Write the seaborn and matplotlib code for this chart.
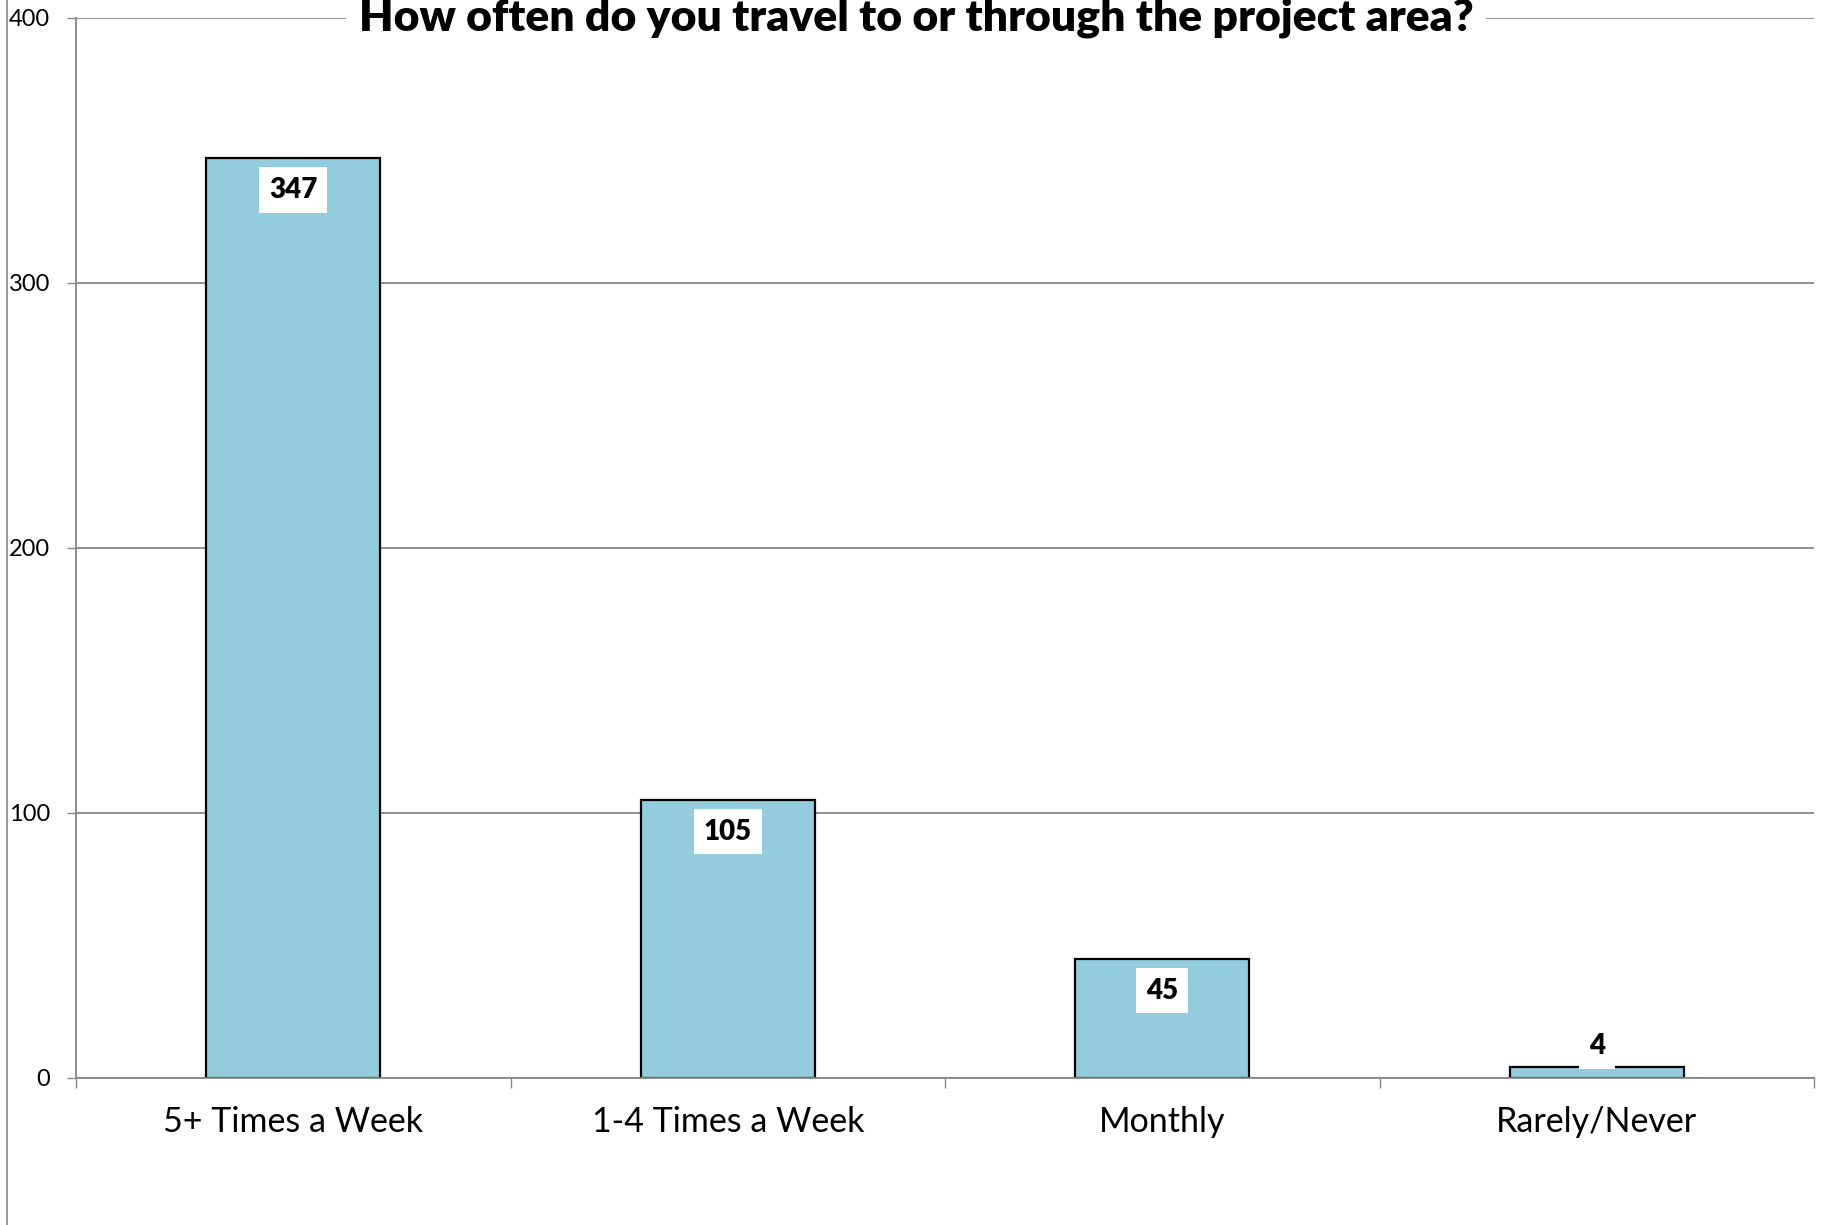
import matplotlib
matplotlib.use("Agg")
import matplotlib.pyplot as plt
from matplotlib.lines import Line2D
from matplotlib.ticker import FixedLocator
import seaborn as sns
import pandas as pd

# ---- data ----
categories = ["5+ Times a Week", "1-4 Times a Week", "Monthly", "Rarely/Never"]
counts = [347, 105, 45, 4]
y_ticks = [0, 100, 200, 300, 400]
title = "How often do you travel to or through the project area?"

sns.set_style("white")
plt.rcParams["font.family"] = ["Lato", "DejaVu Sans"]
plt.rcParams["text.color"] = "black"
plt.rcParams["xtick.color"] = "black"
plt.rcParams["ytick.color"] = "black"

W, H = 1826, 1225
fig = plt.figure(figsize=(W / 100, H / 100), dpi=100)
ax = fig.add_axes([76 / W, 1 - 1078 / H, (1814 - 76) / W, (1078 - 17.5) / H])

df = pd.DataFrame({"cat": categories, "n": counts})
sns.barplot(data=df, x="cat", y="n", ax=ax, color="#93CDDD", saturation=1,
            edgecolor="black", linewidth=1.6, width=0.4, zorder=3)

grid_c = "#868686"
ax.set_xlim(-0.5, len(categories) - 0.5)
ax.set_ylim(0, 400)
ax.set_yticks(y_ticks)
ax.yaxis.grid(True, color=grid_c, linewidth=1.3, zorder=0)
ax.set_axisbelow(True)
for s in ["top", "right"]:
    ax.spines[s].set_visible(False)
for s in ["left", "bottom"]:
    ax.spines[s].set_color(grid_c)
    ax.spines[s].set_linewidth(1.3)
    ax.spines[s].set_zorder(4)

ax.set_xlabel("")
ax.set_ylabel("")
ax.tick_params(axis="y", direction="out", length=6.5, width=1, color=grid_c,
               labelcolor="black", labelsize=17, pad=12, left=True)
ax.tick_params(axis="x", which="major", length=0, labelsize=24.5, pad=20, labelcolor="black")
ax.xaxis.set_minor_locator(FixedLocator([i - 0.5 for i in range(len(categories) + 1)]))
ax.tick_params(axis="x", which="minor", direction="out", length=7, width=1, color=grid_c, bottom=True)

for i, v in enumerate(counts):
    off = -32 if v > 20 else 21
    ax.annotate(str(v), xy=(i, v), xytext=(0, off), textcoords="offset pixels",
                ha="center", va="center", fontsize=20, fontweight="heavy", color="black",
                bbox=dict(boxstyle="square,pad=0.35", fc="white", ec="none"), zorder=5)

fig.text(916 / W, 1 - 31 / H, title, ha="center", va="baseline", fontsize=32,
         fontweight="heavy", color="black",
         bbox=dict(boxstyle="square,pad=0.28", fc="white", ec="none"))

fig.add_artist(Line2D([7 / W, 7 / W], [0, 1], color=grid_c, linewidth=1.2))

fig.savefig("out.png", dpi=100)
